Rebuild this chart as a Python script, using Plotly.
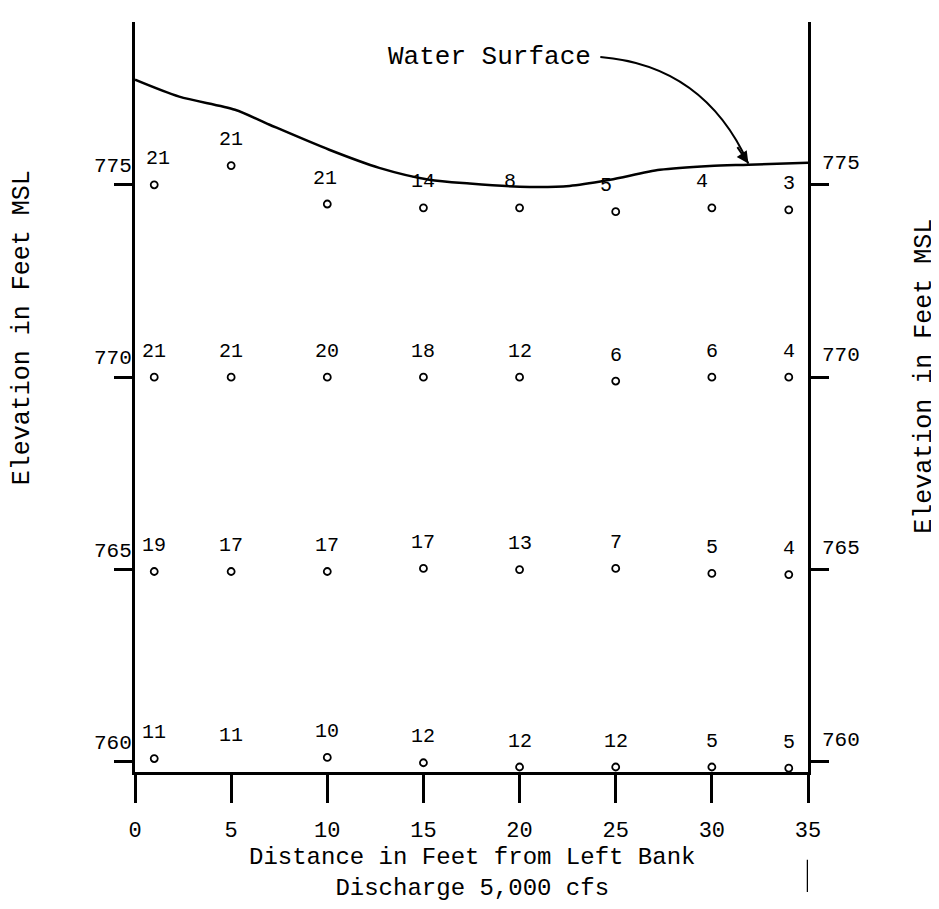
import plotly.graph_objs as go

# distance from left bank (ft) of each sounding
distance = [1, 5, 10, 15, 20, 25, 30, 34]

# measuring point elevations (ft MSL) and velocity readings, one list per row
elev_775 = [775.0, 775.5, 774.5, 774.4, 774.4, 774.3, 774.4, 774.35]
vel_775 = [21, 21, 21, 14, 8, 5, 4, 3]

elev_770 = [770.0, 770.0, 770.0, 770.0, 770.0, 769.9, 770.0, 770.0]
vel_770 = [21, 21, 20, 18, 12, 6, 6, 4]

elev_765 = [764.95, 764.95, 764.95, 765.03, 765.0, 765.03, 764.9, 764.87]
vel_765 = [19, 17, 17, 17, 13, 7, 5, 4]

elev_760 = [760.09, None, 760.12, 759.98, 759.87, 759.87, 759.87, 759.84]
vel_760 = [11, 11, 10, 12, 12, 12, 5, 5]

rows = [(775, elev_775, vel_775), (770, elev_770, vel_770),
        (765, elev_765, vel_765), (760, elev_760, vel_760)]

# water surface profile
ws_dist = [0, 2.3, 5.2, 7.0, 10.1, 12.7, 15.3, 17.4, 20.0, 22.6, 24.7, 27.3, 29.9, 31.9, 35]
ws_elev = [777.73, 777.29, 776.95, 776.56, 775.91, 775.44, 775.13, 775.03, 774.95,
           774.97, 775.13, 775.39, 775.49, 775.52, 775.57]

x_ticks = [0, 5, 10, 15, 20, 25, 30, 35]
y_ticks = [760, 765, 770, 775]

FONT = "Liberation Mono, Courier New, monospace"

fig = go.Figure()

fig.add_trace(go.Scatter(
    x=ws_dist, y=ws_elev, mode='lines',
    line=dict(color='black', width=2.5, shape='spline', smoothing=0.8),
    hoverinfo='skip'
))

# the top row labels near mid-channel were written a little to the left
shift_775 = [4, 0, -2, 0, -10, -10, -10, 0]

annotations = []
for nominal, elevs, vels in rows:
    fig.add_trace(go.Scatter(
        x=distance, y=elevs, mode='markers',
        marker=dict(symbol='circle-open', size=7, color='black', line=dict(width=1.8))
    ))
    for i, (d, e, v) in enumerate(zip(distance, elevs, vels)):
        annotations.append(dict(
            x=d, y=e if e is not None else nominal, text=str(v),
            xanchor='center', showarrow=False, yshift=26,
            xshift=shift_775[i] if nominal == 775 else 0,
            font=dict(size=20, family=FONT, color='black')
        ))

# tick labels sit above the tick marks on both sides
for v in y_ticks:
    annotations.append(dict(xref='paper', x=0, y=v, text=str(v), showarrow=False,
                            xanchor='right', yanchor='bottom', xshift=-1, yshift=5,
                            font=dict(size=21, family=FONT, color='black')))
    annotations.append(dict(xref='paper', x=1, y=v, text=str(v), showarrow=False,
                            xanchor='left', yanchor='bottom', xshift=12, yshift=8,
                            font=dict(size=21, family=FONT, color='black')))

annotations += [
    dict(xref='paper', yref='paper', x=-0.168, y=0.593, text='Elevation in Feet MSL',
         textangle=-90, xanchor='center', yanchor='middle', showarrow=False,
         font=dict(size=25, family=FONT, color='black')),
    dict(xref='paper', yref='paper', x=1.172, y=0.528, text='Elevation in Feet MSL',
         textangle=-90, xanchor='center', yanchor='middle', showarrow=False,
         font=dict(size=25, family=FONT, color='black')),
    dict(x=18.46, y=778.32, text='Water Surface', xanchor='center', showarrow=False,
         font=dict(size=26, family=FONT, color='black')),
    dict(xref='paper', yref='paper', x=0.5, y=-0.1347,
         text='Distance in Feet from Left Bank<br>Discharge 5,000 cfs',
         xanchor='center', yanchor='middle', showarrow=False,
         font=dict(size=24, family=FONT, color='black')),
    dict(x=31.9, y=775.55, text='', showarrow=True, ax=-12, ay=-18,
         arrowhead=2, arrowsize=1.2, arrowwidth=2, arrowcolor='black'),
]

fig.update_layout(
    width=931, height=901,
    margin=dict(l=127, r=131, t=14, b=137),
    paper_bgcolor='white', plot_bgcolor='white',
    showlegend=False,
    annotations=annotations,
    shapes=[
        dict(type='path', xref='x', yref='y',
             path='M 24.2,778.32 Q 29.6,778.1 31.9,775.55',
             line=dict(color='black', width=2)),
        dict(type='line', xref='x', yref='paper', x0=35, x1=35, y0=-0.117, y1=-0.16,
             line=dict(color='black', width=2.5)),
    ],
    xaxis=dict(
        range=[0, 35], tickvals=x_ticks, ticks='outside', ticklen=28, tickwidth=3,
        tickcolor='black', showline=True, linecolor='black', linewidth=3,
        showgrid=False, zeroline=False, ticklabelstandoff=8,
        tickfont=dict(size=22, family=FONT, color='black'),
    ),
    yaxis=dict(
        range=[759.74, 779.23], tickvals=y_ticks, ticks='outside', ticklen=18, tickwidth=3,
        tickcolor='black', showline=True, linecolor='black', linewidth=3, mirror='ticks',
        showgrid=False, zeroline=False, showticklabels=False,
    ),
)

fig.write_html("out.html")
